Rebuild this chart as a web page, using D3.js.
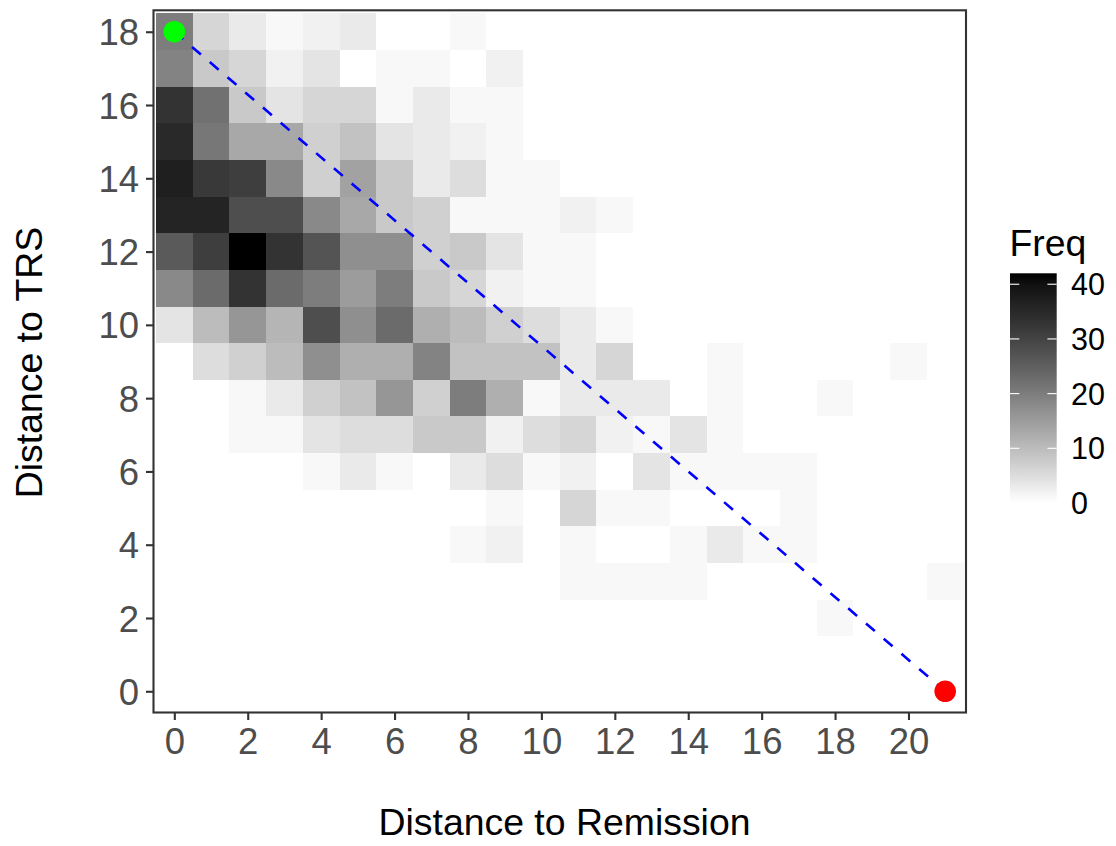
<!DOCTYPE html>
<html>
<head>
<meta charset="utf-8">
<script src="https://cdn.jsdelivr.net/npm/d3@7"></script>
<style>
html, body { margin: 0; padding: 0; background: #ffffff; }
svg { display: block; font-family: "Liberation Sans", Arial, Helvetica, sans-serif; }
</style>
</head>
<body>
<svg id="chart" width="1116" height="846"></svg>
<script>
// ---- data ----
const xValues = d3.range(0, 22);   // Distance to Remission 0..21
const yValues = d3.range(0, 19);   // Distance to TRS 0..18
const xTicks = [0, 2, 4, 6, 8, 10, 12, 14, 16, 18, 20];
const yTicks = [0, 2, 4, 6, 8, 10, 12, 14, 16, 18];
const legendTicks = [0, 10, 20, 30, 40];
const freqLimits = [0, 42];
const startPoint = { x: 0, y: 18 };   // green
const endPoint = { x: 21, y: 0 };     // red

// Freq per cell, one array per TRS distance (x = 0..21)
const freqY18 = [20, 6, 3, 1, 2, 3, 0, 0, 1, 0, 0, 0, 0, 0, 0, 0, 0, 0, 0, 0, 0, 0];
const freqY17 = [19, 8, 6, 2, 4, 0, 1, 1, 0, 2, 0, 0, 0, 0, 0, 0, 0, 0, 0, 0, 0, 0];
const freqY16 = [33, 22, 8, 4, 6, 6, 1, 3, 1, 1, 0, 0, 0, 0, 0, 0, 0, 0, 0, 0, 0, 0];
const freqY15 = [35, 21, 13, 13, 7, 9, 4, 3, 2, 1, 0, 0, 0, 0, 0, 0, 0, 0, 0, 0, 0, 0];
const freqY14 = [37, 32, 31, 18, 7, 14, 8, 3, 5, 1, 1, 0, 0, 0, 0, 0, 0, 0, 0, 0, 0, 0];
const freqY13 = [36, 36, 28, 28, 18, 13, 8, 7, 1, 1, 1, 2, 1, 0, 0, 0, 0, 0, 0, 0, 0, 0];
const freqY12 = [26, 31, 42, 33, 27, 17, 17, 7, 8, 4, 1, 1, 0, 0, 0, 0, 0, 0, 0, 0, 0, 0];
const freqY11 = [18, 23, 33, 23, 20, 15, 20, 8, 6, 2, 1, 1, 0, 0, 0, 0, 0, 0, 0, 0, 0, 0];
const freqY10 = [4, 10, 16, 11, 28, 17, 23, 12, 10, 7, 5, 3, 1, 0, 0, 0, 0, 0, 0, 0, 0, 0];
const freqY9  = [0, 5, 7, 10, 17, 12, 12, 19, 9, 9, 9, 3, 6, 0, 0, 1, 0, 0, 0, 0, 1, 0];
const freqY8  = [0, 0, 1, 3, 7, 9, 16, 7, 20, 12, 1, 3, 3, 3, 0, 1, 0, 0, 1, 0, 0, 0];
const freqY7  = [0, 0, 1, 1, 4, 5, 5, 8, 8, 2, 5, 6, 2, 1, 4, 1, 0, 0, 0, 0, 0, 0];
const freqY6  = [0, 0, 0, 0, 1, 3, 1, 0, 3, 5, 1, 2, 0, 4, 1, 1, 1, 1, 0, 0, 0, 0];
const freqY5  = [0, 0, 0, 0, 0, 0, 0, 0, 0, 1, 0, 6, 1, 1, 0, 0, 0, 1, 0, 0, 0, 0];
const freqY4  = [0, 0, 0, 0, 0, 0, 0, 0, 1, 2, 0, 1, 0, 0, 1, 3, 1, 1, 0, 0, 0, 0];
const freqY3  = [0, 0, 0, 0, 0, 0, 0, 0, 0, 0, 0, 1, 1, 1, 1, 0, 0, 0, 0, 0, 0, 1];
const freqY2  = [0, 0, 0, 0, 0, 0, 0, 0, 0, 0, 0, 0, 0, 0, 0, 0, 0, 0, 1, 0, 0, 0];
const freqY1  = [0, 0, 0, 0, 0, 0, 0, 0, 0, 0, 0, 0, 0, 0, 0, 0, 0, 0, 0, 0, 0, 0];
const freqY0  = [0, 0, 0, 0, 0, 0, 0, 0, 0, 0, 0, 0, 0, 0, 0, 0, 0, 0, 0, 0, 0, 0];
const freqRows = [freqY0, freqY1, freqY2, freqY3, freqY4, freqY5, freqY6, freqY7, freqY8, freqY9,
                  freqY10, freqY11, freqY12, freqY13, freqY14, freqY15, freqY16, freqY17, freqY18];

// ---- layout ----
const panel = { left: 153.5, right: 966, top: 10.3, bottom: 712.5 };
const svg = d3.select("#chart");

const x = d3.scaleLinear().domain([-0.567, 21.567]).range([panel.left, panel.right]);
const y = d3.scaleLinear().domain([-0.579, 18.585]).range([panel.bottom, panel.top]);
const color = d3.scaleSequential(d3.interpolateLab("#ffffff", "#000000")).domain(freqLimits);

const cells = [];
yValues.forEach(yv => xValues.forEach(xv => cells.push({ x: xv, y: yv, f: freqRows[yv][xv] })));

// tiles
svg.append("g").selectAll("rect").data(cells).join("rect")
  .attr("x", d => Math.round(x(d.x - 0.5)))
  .attr("y", d => Math.round(y(d.y + 0.5)))
  .attr("width", d => Math.round(x(d.x + 0.5)) - Math.round(x(d.x - 0.5)))
  .attr("height", d => Math.round(y(d.y - 0.5)) - Math.round(y(d.y + 0.5)))
  .attr("fill", d => color(d.f))
  .attr("shape-rendering", "crispEdges");

// dashed line
svg.append("line")
  .attr("x1", x(startPoint.x)).attr("y1", y(startPoint.y))
  .attr("x2", x(endPoint.x)).attr("y2", y(endPoint.y))
  .attr("stroke", "#0000ff").attr("stroke-width", 2.6)
  .attr("stroke-dasharray", "11.67 11.67");

// points
svg.append("circle").attr("cx", x(startPoint.x)).attr("cy", y(startPoint.y)).attr("r", 10.8).attr("fill", "#00ff00");
svg.append("circle").attr("cx", x(endPoint.x)).attr("cy", y(endPoint.y)).attr("r", 10.8).attr("fill", "#ff0000");

// panel border
svg.append("rect")
  .attr("x", panel.left).attr("y", panel.top)
  .attr("width", panel.right - panel.left).attr("height", panel.bottom - panel.top)
  .attr("fill", "none").attr("stroke", "#333333").attr("stroke-width", 2.1);

// axes
const tickFs = 36.5;
const xAxis = d3.axisBottom(x).tickValues(xTicks).tickSize(7.5).tickPadding(0).tickFormat(d3.format("d"));
const gx = svg.append("g").attr("transform", `translate(0,${panel.bottom})`).call(xAxis);
gx.select(".domain").remove();
gx.selectAll(".tick line").attr("stroke", "#333333").attr("stroke-width", 2.1);
gx.selectAll(".tick text").attr("fill", "#4d4d4d").attr("font-size", tickFs)
  .attr("font-family", "Liberation Sans, Arial, sans-serif")
  .attr("dy", null).attr("y", 753.8 - panel.bottom);

const yAxis = d3.axisLeft(y).tickValues(yTicks).tickSize(7.5).tickPadding(0).tickFormat(d3.format("d"));
const gy = svg.append("g").attr("transform", `translate(${panel.left},0)`).call(yAxis);
gy.select(".domain").remove();
gy.selectAll(".tick line").attr("stroke", "#333333").attr("stroke-width", 2.1);
gy.selectAll(".tick text").attr("fill", "#4d4d4d").attr("font-size", tickFs)
  .attr("font-family", "Liberation Sans, Arial, sans-serif")
  .attr("dy", null).attr("x", 139 - panel.left).attr("y", 0.358 * tickFs);

// axis titles
const titleFs = 37.4;
svg.append("text").attr("x", 564.5).attr("y", 835).attr("text-anchor", "middle")
  .attr("font-size", titleFs).attr("fill", "#000").text("Distance to Remission");
svg.append("text").attr("transform", `translate(41.5,362.5) rotate(-90)`).attr("text-anchor", "middle")
  .attr("font-size", titleFs).attr("fill", "#000").text("Distance to TRS");

// legend
const leg = { x: 1010, w: 46.7 };
const ly = d3.scaleLinear().domain(freqLimits).range([503, 273.3]);
const defs = svg.append("defs");
const grad = defs.append("linearGradient").attr("id", "freqGrad")
  .attr("x1", 0).attr("y1", 1).attr("x2", 0).attr("y2", 0);
d3.range(0, 21).forEach(i => {
  const v = freqLimits[0] + (freqLimits[1] - freqLimits[0]) * i / 20;
  grad.append("stop").attr("offset", (i / 20)).attr("stop-color", color(v));
});
svg.append("rect").attr("x", leg.x).attr("y", ly(freqLimits[1]))
  .attr("width", leg.w).attr("height", ly(freqLimits[0]) - ly(freqLimits[1]))
  .attr("fill", "url(#freqGrad)");
const lg = svg.append("g");
legendTicks.forEach(t => {
  lg.append("line").attr("x1", leg.x).attr("x2", leg.x + 9.3).attr("y1", ly(t)).attr("y2", ly(t))
    .attr("stroke", "#ffffff").attr("stroke-width", 1.1);
  lg.append("line").attr("x1", leg.x + leg.w - 9.3).attr("x2", leg.x + leg.w).attr("y1", ly(t)).attr("y2", ly(t))
    .attr("stroke", "#ffffff").attr("stroke-width", 1.1);
  lg.append("text").attr("x", 1071).attr("y", ly(t) + 0.358 * 30.5)
    .attr("font-size", 30.5).attr("fill", "#000").text(t);
});
svg.append("text").attr("x", 1009.5).attr("y", 255.5).attr("font-size", 37.4)
  .attr("fill", "#000").text("Freq");
</script>
</body>
</html>
